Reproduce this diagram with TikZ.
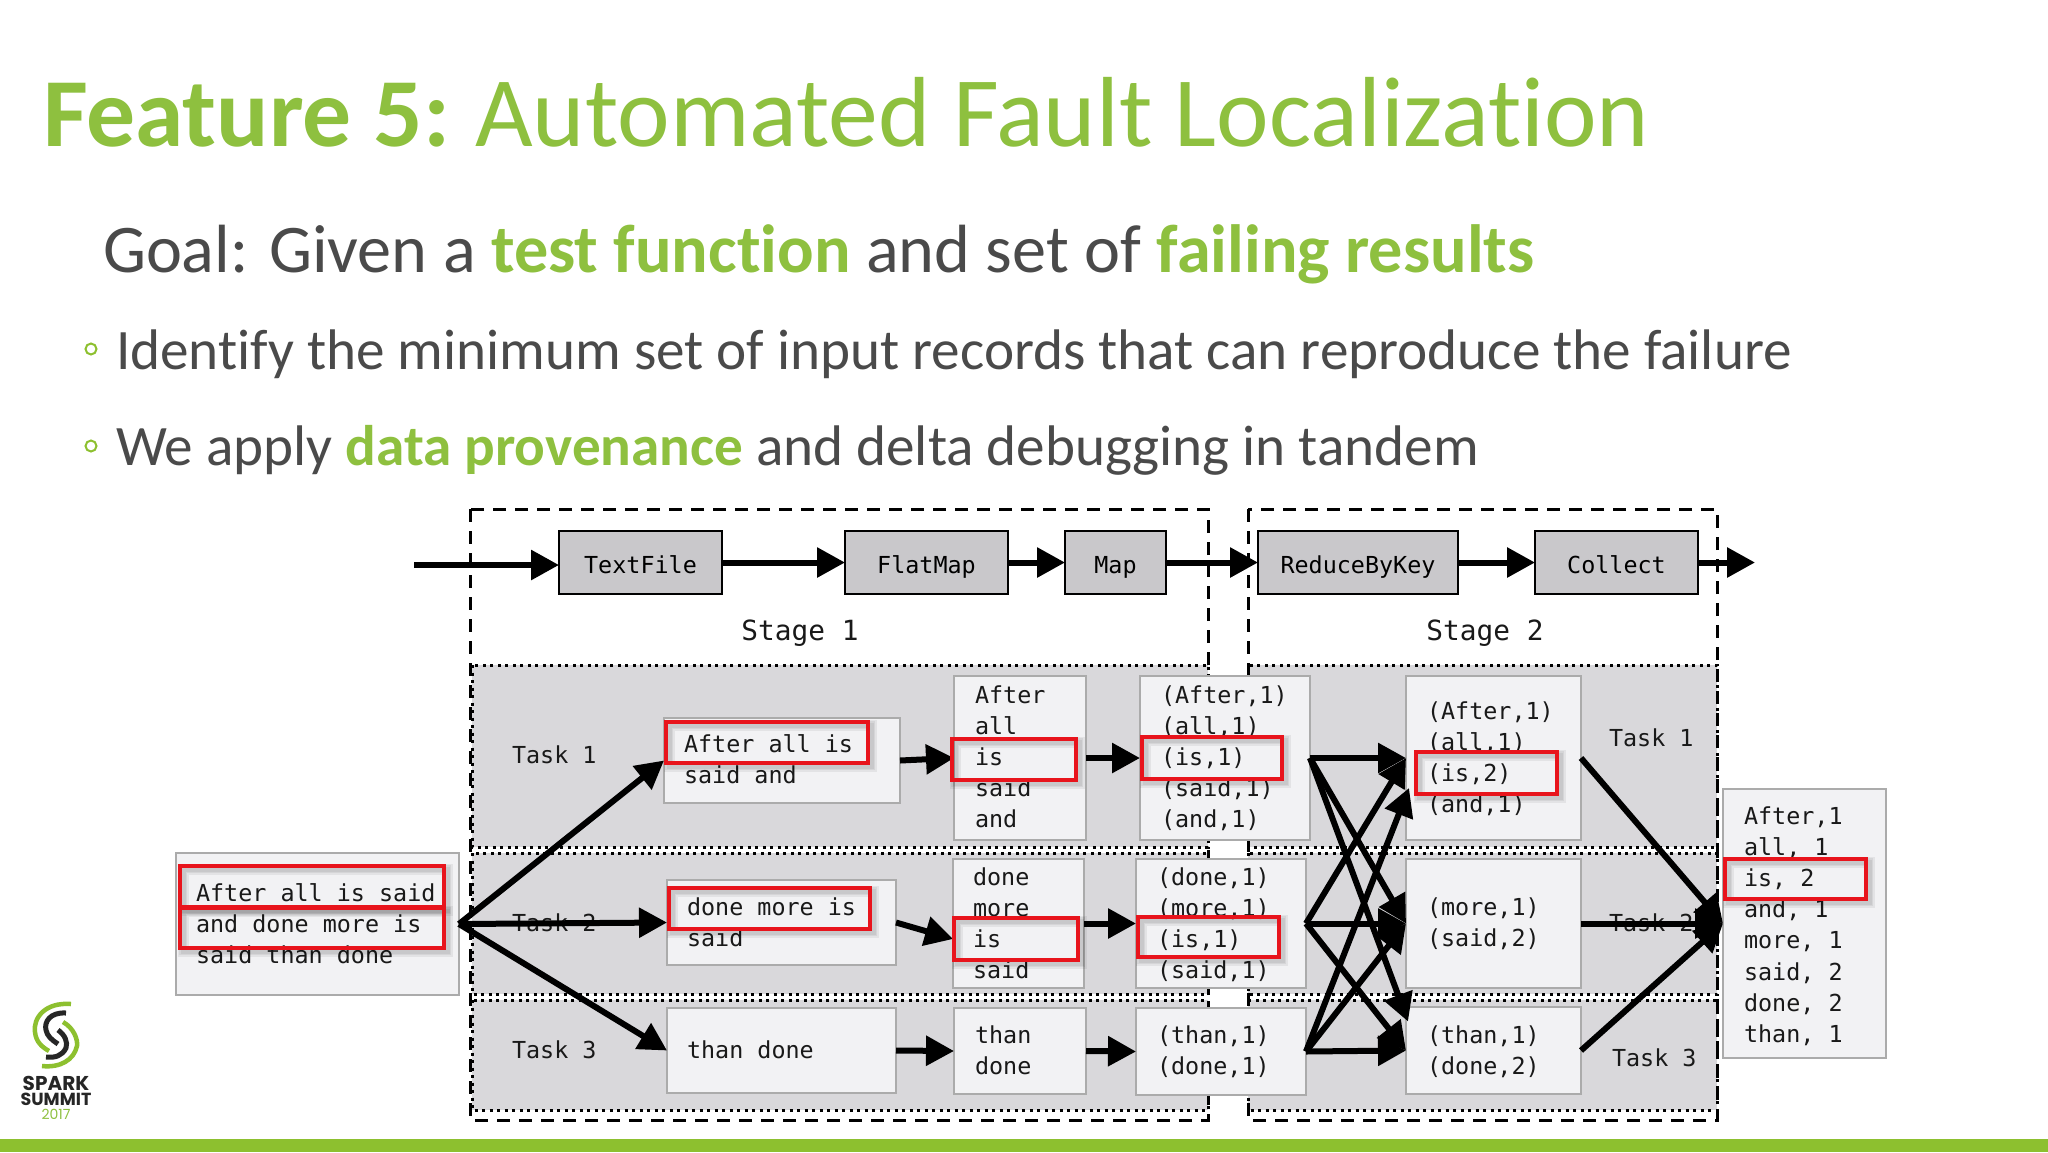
\documentclass[tikz,border=0pt]{standalone}
\usepackage{fontspec}
\setmainfont{Carlito}[RawFeature={-liga}]
\newfontfamily\monof{DejaVu Sans Mono}
\newfontfamily\logof{Poppins}
\usetikzlibrary{arrows.meta}
\definecolor{sgreen}{HTML}{8DC02F}
\definecolor{tgreen}{HTML}{8EC03F}
\definecolor{sgray}{HTML}{4A4A4A}
\definecolor{band}{HTML}{D9D8DB}
\definecolor{topfill}{HTML}{C9C8CB}
\definecolor{lightfill}{HTML}{F2F2F4}
\definecolor{lightdraw}{HTML}{ABABAB}
\definecolor{redbox}{HTML}{E8141C}
\tikzset{
  bandbox/.style={fill=band,draw=black,line width=3pt,dash pattern=on 3pt off 4.5pt},
  stagebox/.style={draw=black,line width=3pt,dash pattern=on 13pt off 9pt},
  topbox/.style={draw=black,fill=topfill,line width=2.6pt,inner sep=0pt,outer sep=0pt,
    text height=24pt,text depth=2pt,font=\monof\fontsize{23.4}{31}\selectfont},
  lightbox/.style={draw=lightdraw,fill=lightfill,line width=2.5pt,inner sep=0pt,outer sep=0pt},
  mono/.style={inner sep=0pt,outer sep=0pt,align=left,text=black!90,
    font=\monof\fontsize{23.4}{31.2}\selectfont},
  stagelabel/.style={inner sep=0pt,anchor=base,text=black!90,font=\monof\fontsize{27.8}{32}\selectfont},
  flow/.style={-{Triangle[length=28pt,width=29pt]},line width=6pt,black},
  redframe/.style={draw=redbox,line width=4.5pt},
  redshadow/.style={draw=black,opacity=.06},
  headline/.style={inner sep=0pt,outer sep=0pt,anchor=base west},
  bulletdot/.style={circle,draw=sgreen,line width=2pt,minimum size=11pt,inner sep=0pt},
}
\newcommand\boxat[6]{% style,name,x0,y0,x1,y1
  \pgfmathsetmacro\bw{#5-#3}\pgfmathsetmacro\bh{#6-#4}%
  \pgfmathsetmacro\bx{(#3+#5)/2}\pgfmathsetmacro\by{(#4+#6)/2}%
  \node[#1,minimum width=\bw pt,minimum height=\bh pt] (#2) at (\bx,\by) {};}
\newcommand\topat[7]{% name,x0,y0,x1,y1,text,unused
  \pgfmathsetmacro\bw{#4-#2}\pgfmathsetmacro\bh{#5-#3}%
  \pgfmathsetmacro\bx{(#2+#4)/2}\pgfmathsetmacro\by{(#3+#5)/2}%
  \node[topbox,minimum width=\bw pt,minimum height=\bh pt] (#1) at (\bx,\by) {#6};}
\newcommand\tx[4]{% name,x,first baseline,lines
  \pgfmathsetmacro\ty{#3-21.84}%
  \node[mono,anchor=north west] (#1) at (#2,\ty) {#4};}
\newcommand\sL{\strut}
\newcommand\redat[4]{%
  \draw[redshadow,line width=11pt] (#1+3,#2+3) rectangle (#3+3,#4+3);
  \draw[redshadow,line width=8pt] (#1+3,#2+3) rectangle (#3+3,#4+3);
  \draw[redshadow,line width=5pt] (#1+3,#2+3) rectangle (#3+3,#4+3);
  \draw[redframe] (#1,#2) rectangle (#3,#4);}
\newcommand\gr[1]{\textcolor{tgreen}{\bfseries #1}}
\begin{document}
\begin{tikzpicture}[x=1pt,y=-1pt]
\useasboundingbox (0,0) rectangle (2048,1152);
\fill[white] (0,0) rectangle (2048,1152);
\fill[sgreen] (0,1139) rectangle (2048,1152);

% headings
\node[headline,text=tgreen,font=\fontsize{99.6}{110}\selectfont] (title) at (43,146)
  {{\fontsize{97.6}{110}\selectfont\bfseries Feature 5:}\hspace{-5pt} Automated Fault Localization};
\node[headline,text=sgray,font=\fontsize{68.2}{74}\selectfont] (goal) at (103,272)
  {Goal: Given a \gr{test function} and set of \gr{failing results}};
\node[bulletdot] (b1) at (91,349) {};
\node[headline,text=sgray,font=\fontsize{57.2}{62}\selectfont] (l1) at (116,369)
  {Identify the minimum set of input records that can reproduce the failure};
\node[bulletdot] (b2) at (91,446) {};
\node[headline,text=sgray,font=\fontsize{57.2}{62}\selectfont] (l2) at (116,465.5)
  {We apply \gr{data provenance} and delta debugging in tandem};

% task bands
\foreach \xa/\xb in {472/1208,1248/1717}{
  \draw[bandbox] (\xa,665) rectangle (\xb,847);
  \draw[bandbox] (\xa,853) rectangle (\xb,994);
  \draw[bandbox] (\xa,1000) rectangle (\xb,1110);
}
% stages
\draw[stagebox] (470,509) rectangle (1208,1120);
\draw[stagebox] (1248,509) rectangle (1717,1120);

% top row
\topat{tf}{559}{531}{722}{594}{TextFile}{}
\topat{fm}{845}{531}{1008}{594}{FlatMap}{}
\topat{mp}{1065}{531}{1166}{594}{Map}{}
\topat{rb}{1258}{531}{1458}{594}{ReduceByKey}{}
\topat{cl}{1535}{531}{1698}{594}{Collect}{}
\coordinate (src) at (414,565);
\coordinate (snk) at (1755,562.5);
\node[stagelabel] (s1) at (800,640) {Stage 1};
\node[stagelabel] (s2) at (1485,640) {Stage 2};

% light boxes
\boxat{lightbox}{in}{176}{853}{459}{995}
\boxat{lightbox}{ta}{664}{718}{900}{803}
\boxat{lightbox}{tb}{667}{880}{896}{965}
\boxat{lightbox}{tc}{667}{1008}{896}{1093}
\boxat{lightbox}{wa}{954}{676}{1086}{840}
\boxat{lightbox}{wb}{953}{859}{1084}{988}
\boxat{lightbox}{wc}{954}{1008}{1086}{1094}
\boxat{lightbox}{pa}{1140}{676}{1310}{840}
\boxat{lightbox}{pb}{1136}{859}{1306}{988}
\boxat{lightbox}{pc}{1136}{1008}{1306}{1095}
\boxat{lightbox}{ra}{1406}{676}{1581}{840}
\boxat{lightbox}{rb2}{1406}{859}{1581}{988}
\boxat{lightbox}{rc}{1406}{1007}{1581}{1094}
\boxat{lightbox}{ou}{1723}{789}{1886}{1058}

% task labels
\tx{tl1}{512}{763}{\sL Task 1}
\tx{tl2}{512}{931}{\sL Task 2}
\tx{tl3}{512}{1058}{\sL Task 3}
\tx{tr1}{1609}{746}{\sL Task 1}
\tx{tr2}{1609}{931}{\sL Task 2}
\tx{tr3}{1612}{1066}{\sL Task 3}

% box texts
\tx{tin}{196}{901}{\sL After all is said\\\sL and done more is\\\sL said than done}
\tx{tta}{684}{752}{\sL After all is\\\sL said and}
\tx{ttb}{687}{915}{\sL done more is\\\sL said}
\tx{ttc}{687}{1058}{\sL than done}
\tx{twa}{975}{703}{\sL After\\\sL all\\\sL is\\\sL said\\\sL and}
\tx{twb}{973}{885}{\sL done\\\sL more\\\sL is\\\sL said}
\tx{twc}{975}{1043}{\sL than\\\sL done}
\tx{tpa}{1161}{703}{\sL (After,1)\\\sL (all,1)\\\sL (is,1)\\\sL (said,1)\\\sL (and,1)}
\tx{tpb}{1157}{885}{\sL (done,1)\\\sL (more,1)\\\sL (is,1)\\\sL (said,1)}
\tx{tpc}{1157}{1043}{\sL (than,1)\\\sL (done,1)}
\tx{tra}{1427}{719}{\sL (After,1)\\\sL (all,1)\\\sL (is,2)\\\sL (and,1)}
\tx{trb}{1427}{915}{\sL (more,1)\\\sL (said,2)}
\tx{trc}{1427}{1043}{\sL (than,1)\\\sL (done,2)}
\tx{tou}{1744}{824}{\sL After,1\\\sL all, 1\\\sL is, 2\\\sL and, 1\\\sL more, 1\\\sL said, 2\\\sL done, 2\\\sL than, 1}

% arrows
\draw[flow] (src) -- ([yshift=-2.5pt]tf.west);
\draw[flow] (tf) -- (fm);
\draw[flow] (fm) -- (mp);
\draw[flow] (mp) -- (rb);
\draw[flow] (rb) -- (cl);
\draw[flow] (cl) -- (snk);
\draw[flow] (in.east) -- (ta.west);
\draw[flow] (in.east) -- (tb.west);
\draw[flow] (in.east) -- (tc.west);
\draw[flow] (ta.east) -- (wa.west);
\draw[flow] (tb.east) -- ([yshift=-15.5pt]wb.west);
\draw[flow] (tc.east) -- (wc.west);
\draw[flow] (wa.east) -- (pa.west);
\draw[flow] (wb.east) -- (pb.west);
\draw[flow] (wc.east) -- (pc.west);
\draw[flow] (pa.east) -- (ra.west);
\draw[flow] (pa.east) -- (rb2.west);
\draw[flow] (pa.east) -- ([yshift=29pt,xshift=2pt]rc.west);
\draw[flow] (pb.east) -- (ra.west);
\draw[flow] (pb.east) -- (rb2.west);
\draw[flow] (pb.east) -- (rc.west);
\draw[flow] (pc.east) -- ([yshift=-30pt,xshift=3pt]ra.west);
\draw[flow] (pc.east) -- (rb2.west);
\draw[flow] (pc.east) -- (rc.west);
\draw[flow] (ra.east) -- (ou.west);
\draw[flow] (rb2.east) -- (ou.west);
\draw[flow] (rc.east) -- (ou.west);

% red frames
\redat{180}{866}{444}{907}
\redat{180}{908}{444}{948}
\redat{666}{722}{868}{763}
\redat{669}{888}{870}{929}
\redat{952}{739}{1076}{780}
\redat{954}{918}{1078}{960}
\redat{1142}{737}{1282}{779}
\redat{1138}{917}{1279}{957}
\redat{1416}{752}{1557}{794}
\redat{1725}{859}{1866}{899}

% logo
\begin{scope}[shift={(0,980)}]
\draw[sgreen,line width=4.5pt] (71,24) .. controls (45,22) and (33,38) .. (35,52) .. controls (36,62) and (42,67) .. (49,71);
\draw[sgreen,line width=4.5pt] (63,42) .. controls (74,48) and (78,60) .. (77,66) .. controls (74,80) and (60,88) .. (42,86);
\draw[black!85,line width=5pt] (66,33) .. controls (50,32) and (44,42) .. (46,50) .. controls (47,56) and (52,60) .. (58,64);
\draw[black!85,line width=5pt] (58,50) .. controls (65,55) and (68,62) .. (66,68) .. controls (62,76) and (55,78) .. (46,77);
\end{scope}
\node[inner sep=0pt,anchor=base,text=black!85,font=\logof\bfseries\fontsize{20}{22}\selectfont] (lg1) at (56,1090) {SPARK};
\node[inner sep=0pt,anchor=base,text=black!85,font=\logof\bfseries\fontsize{17.5}{20}\selectfont] (lg2) at (56,1105) {SUMMIT};
\node[inner sep=0pt,anchor=base,text=tgreen,font=\logof\fontsize{14}{16}\selectfont] (lg3) at (56,1119) {2017};
\end{tikzpicture}
\end{document}
